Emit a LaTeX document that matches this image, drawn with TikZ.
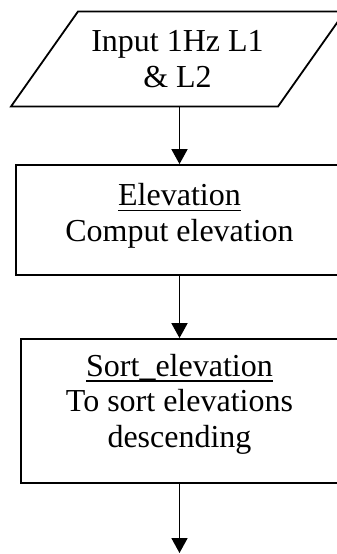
\documentclass[tikz,border=0pt]{standalone}
\usepackage{fontspec}
\setmainfont{Liberation Serif}
\usetikzlibrary{arrows.meta}
% word with a rule drawn under it
\newcommand{\ulword}[1]{{\setbox0\hbox{#1}\rlap{\rule[-5.5pt]{\wd0}{1.5pt}}\box0}}
\begin{document}
\begin{tikzpicture}[x=1pt,y=-1pt,
  frame/.style={draw, line width=1.8pt, inner sep=0pt},
  txt/.style={font=\fontsize{32}{35.5}\selectfont, inner sep=0pt, align=center, anchor=base},
  flow/.style={-{Triangle[length=15pt,width=16pt]}, line width=1.8pt}]
\useasboundingbox (0,0) rectangle (337,554);
\clip (0,0) rectangle (337,554);

% input parallelogram (text node: base is the last line)
\draw[frame] (11,106.5) -- (278,106.5) -- (345,11.5) -- (78,11.5) -- cycle;
\node[minimum width=230pt, minimum height=95pt, inner sep=0pt] (in) at (179.5,59) {};
\node[txt] (inT) at (177.5,87) {Input 1Hz L1\\ \& L2};

% processing steps
\node[frame, minimum width=327pt, minimum height=110pt] (elev) at (179.5,220) {};
\node[txt] (elevT) at (179.5,241) {\ulword{Elevation}\\Comput elevation};

\node[frame, minimum width=317.6pt, minimum height=144pt] (sort) at (179.5,411) {};
\node[txt] (sortT) at (179.5,447) {\ulword{Sort\_elevation}\\To sort elevations\\descending};

\coordinate (out) at (179.5,553);

% connectors
\draw[flow] (in.south) -- (elev.north);
\draw[flow] (elev.south) -- (sort.north);
\draw[flow] (sort.south) -- (out);
\end{tikzpicture}
\end{document}
